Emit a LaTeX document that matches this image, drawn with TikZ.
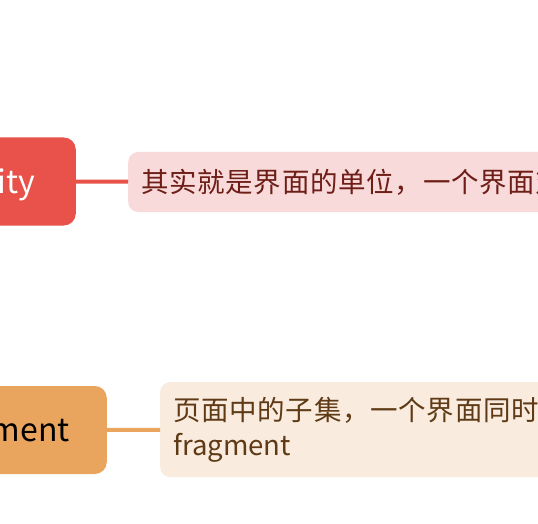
\documentclass[tikz,border=0pt]{standalone}
\usepackage{fontspec}
\setmainfont{Noto Sans CJK SC}
\newfontfamily\notefont[LetterSpace=2.5]{Noto Sans CJK SC}
\usetikzlibrary{positioning}
\definecolor{actred}{HTML}{E8524A}
\definecolor{actpink}{HTML}{F7DAD9}
\definecolor{actink}{HTML}{6E1D17}
\definecolor{fragorange}{HTML}{E9A55E}
\definecolor{fragpeach}{HTML}{F9EBDD}
\definecolor{fragink}{HTML}{5E3A16}
\tikzset{
	topic/.style = {rounded corners = 12pt, minimum height = 88pt, anchor = east,
		text height = 26pt, text depth = 3pt, font = \fontsize{32}{38}\selectfont},
	note/.style = {rounded corners = 10pt, anchor = west, inner xsep = 13pt,
		align = left, font = \notefont\fontsize{27.5}{35}\selectfont},
	link/.style = {line width = 4pt}
}
\begin{document}
\begin{tikzpicture} [x = 1pt, y = 1pt]
	\useasboundingbox (0,0) rectangle (538,-524);
	\clip (0,0) rectangle (538,-524);
	% Activity
	\node [topic, fill = actred, text = white, inner xsep = 41pt] (activity) at (76,-181.5) {ity};
	\node [note, fill = actpink, text = actink, minimum height = 60pt] (activitynote) at (128,-182) {其实就是界面的单位，一个界面对};
	\draw [link, actred] (activity) -- (activitynote);
	% Fragment
	\node [topic, fill = fragorange, text = black, inner xsep = 37pt] (fragment) at (107,-430) {ment};
	\node [note, fill = fragpeach, text = fragink, minimum height = 95pt, text width = 420pt] (fragmentnote) at (160,-429.5) {页面中的子集，一个界面同时\\\rmfamily fragment};
	\draw [link, fragorange] (fragment) -- (fragmentnote);
\end{tikzpicture}
\end{document}
